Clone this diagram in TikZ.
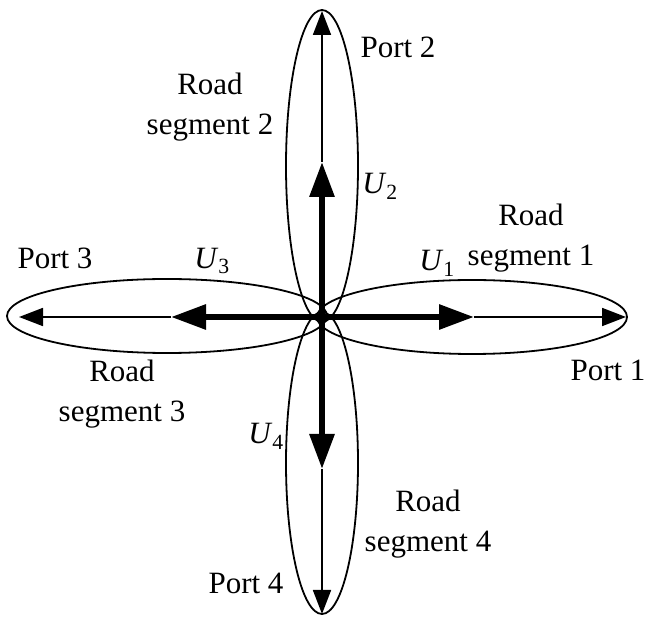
\documentclass[tikz,border=0pt]{standalone}
\usepackage{fontspec}
\setmainfont{Liberation Serif}
\usetikzlibrary{arrows.meta}
\begin{document}
\begin{tikzpicture}[x=1pt,y=-1pt,
  lbl/.style={font=\fontsize{31}{40}\selectfont, align=center, inner sep=0pt},
  seg/.style={line width=1.8pt},
  thick arrow/.style={line width=6pt, -{Triangle[length=35pt,width=24pt]}},
  thin arrow/.style={line width=1.8pt, -{Triangle[length=24pt,width=18pt]}}]
\useasboundingbox (0,0) rectangle (646,617);
% ellipses (road segments)
\draw[seg] (472,317) ellipse (155 and 37);
\draw[seg] (167,316) ellipse (160 and 37);
\draw[seg] (322,166) ellipse (36 and 156);
\draw[seg] (322,463) ellipse (36 and 151);
% points
\coordinate (c) at (322,317);
\coordinate (r1) at (474,317);
\coordinate (r2) at (626,317);
\coordinate (l1) at (171,317);
\coordinate (l2) at (19,317);
\coordinate (t1) at (322,162);
\coordinate (t2) at (322,11);
\coordinate (b1) at (322,469);
\coordinate (b2) at (322,614);
% arrows
\draw[thin arrow] (r1) -- (r2);
\draw[thin arrow] (l1) -- (l2);
\draw[thin arrow] (t1) -- (t2);
\draw[thin arrow] (b1) -- (b2);
\draw[thick arrow] (c) -- (r1);
\draw[thick arrow] (c) -- (l1);
\draw[thick arrow] (c) -- (t1);
\draw[thick arrow] (c) -- (b1);
% labels
\node[lbl] (p2) at (398,47) {Port 2};
\node[lbl] (rs2) at (210,107) {Road\\segment 2};
\node[lbl] (u2) at (380,186) {\textit{U}\textsubscript{2}};
\node[lbl] (p3) at (55,258) {Port 3};
\node[lbl] (u3) at (212,261) {\textit{U}\textsubscript{3}};
\node[lbl] (u1) at (437,263) {\textit{U}\textsubscript{1}};
\node[lbl] (rs1) at (531,238) {Road\\segment 1};
\node[lbl] (p1) at (608,370) {Port 1};
\node[lbl] (rs3) at (122,394) {Road\\segment 3};
\node[lbl] (u4) at (266,436) {\textit{U}\textsubscript{4}};
\node[lbl] (rs4) at (428,524) {Road\\segment 4};
\node[lbl] (p4) at (246,583) {Port 4};
\end{tikzpicture}
\end{document}
